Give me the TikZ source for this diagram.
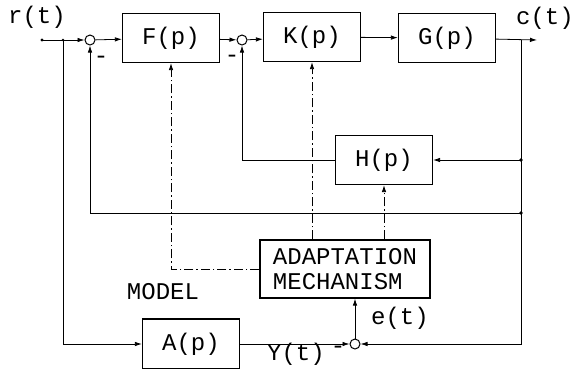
\documentclass[tikz,border=0pt]{standalone}
\usepackage{fontspec}
\setmonofont{Liberation Mono}
\usetikzlibrary{arrows.meta,positioning}

\begin{document}
\begin{tikzpicture}[x=1pt, y=-1pt,
    block/.style={draw, line width=1.2pt, minimum width=97pt, minimum height=49pt,
                  font=\ttfamily\fontsize{24}{25}\selectfont},
    sumjn/.style={draw, circle, line width=1pt, minimum size=10pt, inner sep=0pt},
    sig/.style={line width=0.8pt, -{Latex[length=7pt,width=4.5pt]}},
    adapt/.style={sig, dash pattern=on 9pt off 3pt on 1.5pt off 3pt},
    lbl/.style={font=\ttfamily\fontsize{24}{25}\selectfont},
    tap/.style={circle, fill, inner sep=1.4pt}]

    % Fix page size
    \useasboundingbox (0,0) rectangle (576,368);

    % Forward path
    \node[block] (F) at (171,38) {F(p)};
    \node[block] (K) at (312,37) {K(p)};
    \node[block] (G) at (447,38) {G(p)};
    \node[sumjn] (S1) at (90,40) {};
    \node[sumjn] (S2) at (242,40) {};

    % Feedback and model blocks
    \node[block] (H) at (384,160) {H(p)};
    \node[block, minimum width=170pt, minimum height=58pt, align=left] (AM) at (345,269)
        {ADAPTATION\\MECHANISM};
    \node[block, minimum height=50pt] (A) at (191,344) {A(p)};
    \node[sumjn] (S3) at (355,344) {};

    % Branch points
    \coordinate (in) at (42,40);
    \coordinate (br) at (63,40);
    \coordinate (out) at (537,40);
    \coordinate (ctap) at (521,40);
    \coordinate (htap) at (521,160);
    \coordinate (loop) at (521,213);

    % Signal lines
    \draw[sig] (in) -- (S1);
    \draw[sig] (S1) -- (F);
    \draw[sig] (F) -- (S2);
    \draw[sig] (S2) -- (K);
    \draw[sig] (K) -- (G);
    \draw[sig] (G) -- (out);
    \draw[sig] (br) |- (A);
    \draw[sig] (A) -- (S3);
    \draw[sig] (ctap) |- (S3);
    \draw[sig] (S3) -- (S3 |- AM.south);
    \draw[sig] (htap) -- (H);
    \draw[sig] (H) -| (S2);
    \draw[sig] (loop) -| (S1);

    \node[tap, inner sep=1.2pt] at (in) {};
    \node[tap, inner sep=1pt] at (br) {};
    \node[tap] at (htap) {};
    \node[tap] at (loop) {};

    % Adaptation signals
    \draw[adapt] (AM.north -| K) -- (K);
    \draw[adapt] (AM.north -| H) -- (H);
    \draw[adapt] (AM.west) -| (F);

    % Labels
    \node[lbl] (rlab) at (37,17) {r(t)};
    \node[lbl] (clab) at (545,18) {c(t)};
    \node[lbl] (elab) at (400,318) {e(t)};
    \node[lbl] (ylab) at (296,354) {Y(t)};
    \node[lbl] (mlab) at (163,292) {MODEL};
    \node[lbl] (m1) at (101,60) {-};
    \node[lbl] (m2) at (232,59) {-};
    \node[lbl] (m3) at (338,350) {-};

\end{tikzpicture}
\end{document}
